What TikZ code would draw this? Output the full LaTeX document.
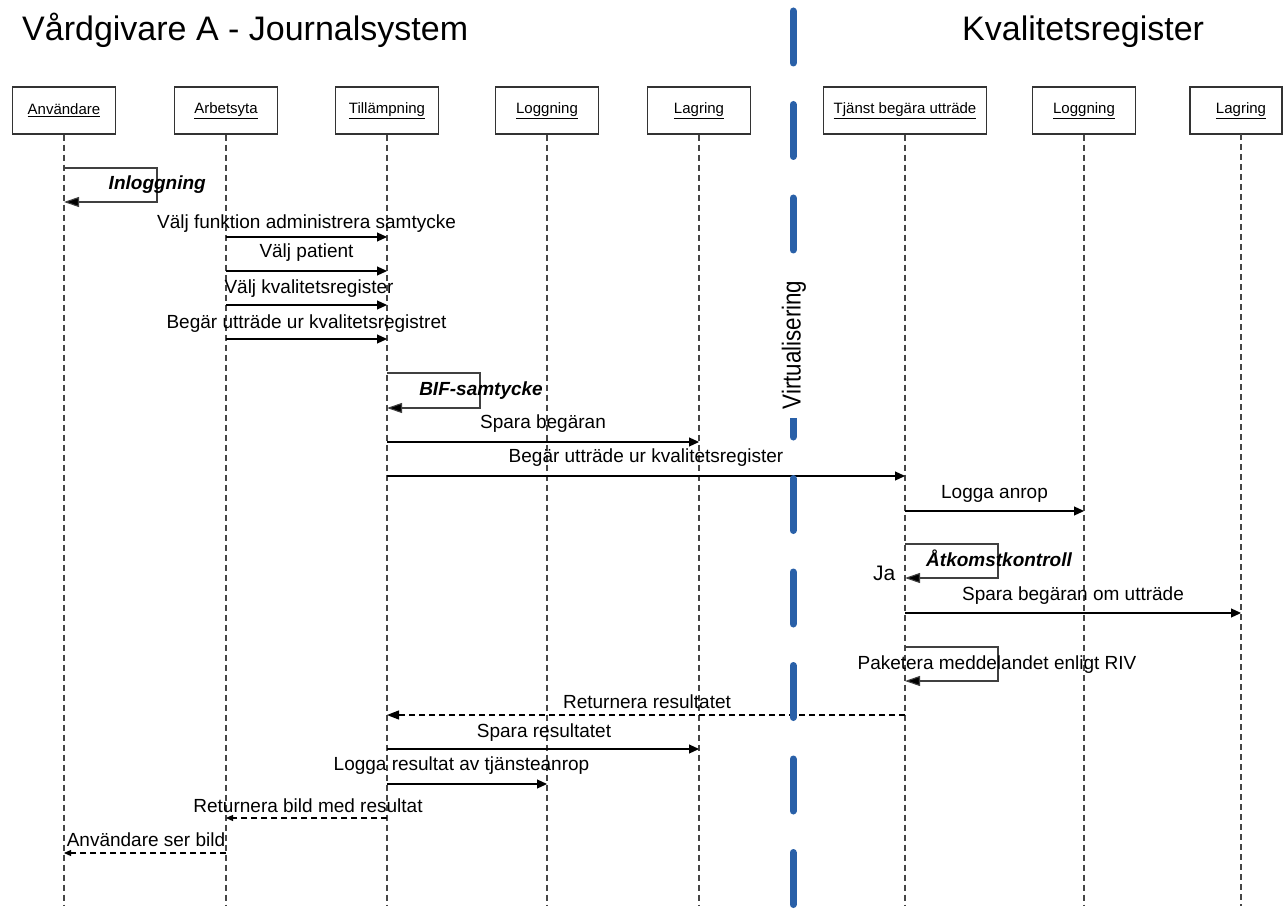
\documentclass[tikz,border=0pt]{standalone}
\usepackage{fontspec}
\usepackage{graphicx}
\setmainfont{Liberation Sans}
\usetikzlibrary{arrows.meta}
\definecolor{vblue}{RGB}{41,96,168}
\definecolor{lifegray}{RGB}{70,70,70}
\tikzset{
  obj/.style={draw=black!80, line width=1.1pt, minimum width=103pt, minimum height=47pt, inner sep=0pt, font=\fontsize{15}{17}\selectfont},
  life/.style={draw=lifegray, line width=1.1pt, dash pattern=on 6pt off 4pt},
  msg/.style={draw=black, line width=1.1pt, -{Triangle[length=10pt,width=9pt]}},
  retmsg/.style={draw=black, line width=1.1pt, dash pattern=on 6pt off 4pt, -{Triangle[length=12pt,width=9pt]}},
  retsmall/.style={draw=black, line width=1.1pt, dash pattern=on 6pt off 4pt, -{Triangle[length=7pt,width=6pt]}},
  selfmsg/.style={draw=black!75, line width=1.1pt, -{Triangle[length=15pt,width=10pt,fill=black]}},
  lbl/.style={inner sep=0pt, anchor=base, font=\fontsize{19}{22}\selectfont},
  blbl/.style={lbl, font=\fontsize{19}{22}\selectfont\bfseries\itshape},
  title/.style={inner sep=0pt, anchor=base west, font=\fontsize{34}{40}\selectfont},
}
\begin{document}
\begin{tikzpicture}[x=1pt,y=-1pt]
\useasboundingbox (0,0) rectangle (1284,909);
% titles
\node[title] (t1) at (22,41) {Vårdgivare A - Journalsystem};
\node[title] (t2) at (962,41) {Kvalitetsregister};
% objects
\node[obj] (u) at (64,110.5) {\underline{Användare}};
\node[obj] (arb) at (226,110.5) {\underline{Arbetsyta}};
\node[obj] (til) at (387,110.5) {\underline{Tillämpning}};
\node[obj] (log) at (547,110.5) {\underline{Loggning}};
\node[obj] (lag) at (699,110.5) {\underline{Lagring}};
\node[obj, minimum width=163pt] (tj) at (905,110.5) {\underline{Tjänst begära utträde}};
\node[obj] (klog) at (1084,110.5) {\underline{Loggning}};
\node[obj, minimum width=92pt] (klagbox) at (1236,110.5) {};
\node[inner sep=0pt, font=\fontsize{15}{17}\selectfont] (klag) at (1241,110.5) {\underline{Lagring}};
% lifelines
\foreach \n in {u,arb,til,log,lag,tj,klog}{
  \draw[life] (\n.south) -- (\n.south |- 0,906);
}
\coordinate (klagtop) at (1241,134);
\draw[life] (klagtop) -- (klagtop |- 0,906);

% Inloggning self loop
\coordinate (c1a) at (157,168);
\coordinate (c1b) at (157,202);
\draw[selfmsg] (u |- c1a) -- (c1a) -- (c1b) -- (u |- c1b);
\node[blbl, anchor=base east] (m1) at (206,190) {Inloggning};

% messages
\draw[msg] (arb |- 0,237) -- (til |- 0,237);
\node[lbl] (m2) at (306.5,229) {Välj funktion administrera samtycke};
\draw[msg] (arb |- 0,271) -- (til |- 0,271);
\node[lbl] (m3) at (306.5,258) {Välj patient};
\draw[msg] (arb |- 0,305) -- (til |- 0,305);
\node[lbl] (m4) at (309,293) {Välj kvalitetsregister};
\draw[msg] (arb |- 0,339) -- (til |- 0,339);
\node[lbl] (m5) at (306.5,328) {Begär utträde ur kvalitetsregistret};

% BIF-samtycke self loop
\coordinate (c2a) at (480,373);
\coordinate (c2b) at (480,408);
\draw[selfmsg] (til |- c2a) -- (c2a) -- (c2b) -- (til |- c2b);
\node[blbl, anchor=base east] (m6) at (543,395) {BIF-samtycke};

\draw[msg] (til |- 0,442) -- (lag |- 0,442);
\node[lbl] (m7) at (543,428) {Spara begäran};
\draw[msg] (til |- 0,476) -- (tj |- 0,476);
\node[lbl] (m8) at (646,462) {Begär utträde ur kvalitetsregister};
\draw[msg] (tj |- 0,511) -- (klog |- 0,511);
\node[lbl] (m9) at (994.5,498) {Logga anrop};

% Åtkomstkontroll self loop
\coordinate (c3a) at (998,544);
\coordinate (c3b) at (998,578);
\draw[selfmsg] (tj |- c3a) -- (c3a) -- (c3b) -- (tj |- c3b);
\node[blbl, anchor=base west] (m10) at (926,566) {Åtkomstkontroll};
\node[lbl, anchor=base west, font=\fontsize{21}{24}\selectfont] (ja) at (873,580) {Ja};

\draw[msg] (tj |- 0,613) -- (klagtop |- 0,613);
\node[lbl] (m11) at (1073,600) {Spara begäran om utträde};

% Paketera self loop
\coordinate (c4a) at (998,647);
\coordinate (c4b) at (998,681);
\draw[selfmsg] (tj |- c4a) -- (c4a) -- (c4b) -- (tj |- c4b);
\node[lbl] (m12) at (997,669) {Paketera meddelandet enligt RIV};

% returns
\draw[retmsg] (tj |- 0,715) -- (til |- 0,715);
\node[lbl] (m13) at (647,708) {Returnera resultatet};
\draw[msg] (til |- 0,749) -- (lag |- 0,749);
\node[lbl] (m14) at (544,737) {Spara resultatet};
\draw[msg] (til |- 0,784) -- (log |- 0,784);
\node[lbl] (m15) at (461.5,770) {Logga resultat av tjänsteanrop};
\draw[retsmall] (til |- 0,818) -- (arb |- 0,818);
\node[lbl] (m16) at (308,812) {Returnera bild med resultat};
\draw[retsmall] (arb |- 0,853) -- (u |- 0,853);
\node[lbl] (m17) at (146,846) {Användare ser bild};

% virtualisation boundary
\coordinate (vtop) at (793,11);
\coordinate (vbot) at (793,906);
\draw[vblue, line width=7pt, line cap=round, dash pattern=on 52pt off 41.5pt] (vtop) -- (vbot);
\node[fill=white, rotate=90, inner xsep=9pt, inner ysep=2pt, font=\fontsize{26}{28}\selectfont] (virt) at (794,345) {\scalebox{0.86}[1]{Virtualisering}};
\end{tikzpicture}
\end{document}
